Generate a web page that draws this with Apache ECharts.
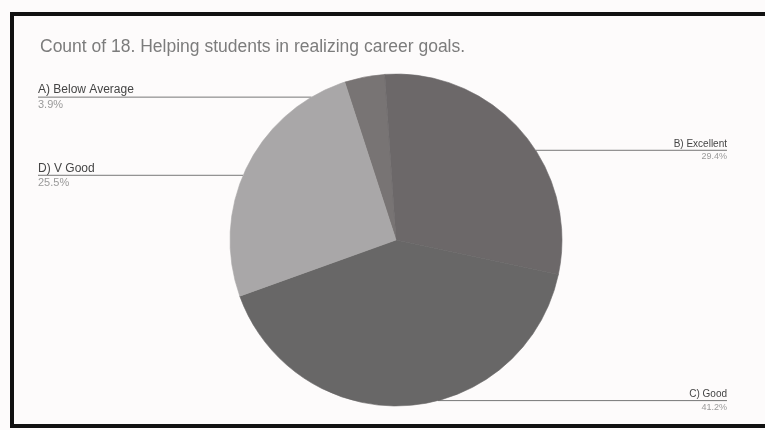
<!DOCTYPE html>
<html>
<head>
<meta charset="utf-8">
<script src="https://cdn.jsdelivr.net/npm/echarts@6/dist/echarts.min.js"></script>
<style>
html,body{margin:0;padding:0;background:#fbf8f8;}
#main{width:765px;height:430px;}
</style>
</head>
<body>
<div id="main"></div>
<script>
const categories = ["A) Below Average", "B) Excellent", "C) Good", "D) V Good"];
const counts = [2, 15, 21, 13];
const sliceColors = ["#787474", "#6c6869", "#686767", "#a9a7a8"];
const titleText = "Count of 18. Helping students in realizing career goals.";

// label styling per slice (left labels look larger in the scan)
const nameSizes = [12, 10, 10, 12];
const labelShift = [26, 23, -11, 11];
const PIE_CX = 396, PIE_CY = 240, PIE_R = 166;

const chart = echarts.init(document.getElementById('main'), null, {renderer: 'canvas'});
const data = categories.map((c, i) => ({
  name: c, value: counts[i],
  itemStyle: {color: sliceColors[i], borderColor: sliceColors[i], borderWidth: 0.6},
  label: {rich: {
    n: {fontSize: nameSizes[i], color: '#444', fontFamily: 'Liberation Sans', lineHeight: nameSizes[i] + 3},
    p: {fontSize: nameSizes[i] - 1, color: '#9a9a9a', fontFamily: 'Liberation Sans', lineHeight: nameSizes[i] + 2}
  }}
}));

chart.setOption({
  backgroundColor: '#fdfbfb',
  animation: false,
  graphic: [
    {type: 'rect', shape: {x: 12, y: 14, width: 760, height: 412}, style: {fill: 'none', stroke: '#111', lineWidth: 4}, z: 10},
    {type: 'text', left: 40, top: 38, style: {text: titleText, font: '17.5px "Liberation Sans", Arial, sans-serif', fill: '#7c7c7c'}}
  ],
  series: [{
    type: 'pie',
    center: [PIE_CX, PIE_CY],
    radius: PIE_R,
    startAngle: 108,
    clockwise: true,
    data: data,
    label: {
      show: true,
      alignTo: 'edge',
      edgeDistance: 38,
      formatter: p => '{n|' + p.name + '}\n{p|' + p.percent.toFixed(1) + '%}',
      rich: {
        n: {fontSize: 10, color: '#444', fontFamily: 'Liberation Sans', lineHeight: 14},
        p: {fontSize: 9, color: '#999', fontFamily: 'Liberation Sans', lineHeight: 13}
      }
    },
    labelLine: {show: true, length: 6, length2: 0, lineStyle: {color: '#777', width: 1}},
    labelLayout: function (params) {
      const dy = labelShift[params.dataIndex];
      const r = params.labelRect;
      const pts = params.labelLinePoints;
      const res = {dy: dy};
      if (pts && pts.length) {
        const isLeft = (r.x + r.width / 2) < PIE_CX;
        const yLine = r.y + r.height / 2 + dy;
        const endX = isLeft ? r.x : r.x + r.width;
        const h = Math.max(0, PIE_R * PIE_R - (yLine - PIE_CY) * (yLine - PIE_CY));
        const startX = PIE_CX + (isLeft ? -1 : 1) * Math.sqrt(h);
        res.labelLinePoints = [[startX, yLine], [startX, yLine], [endX, yLine]];
      }
      return res;
    }
  }]
});
</script>
</body>
</html>
